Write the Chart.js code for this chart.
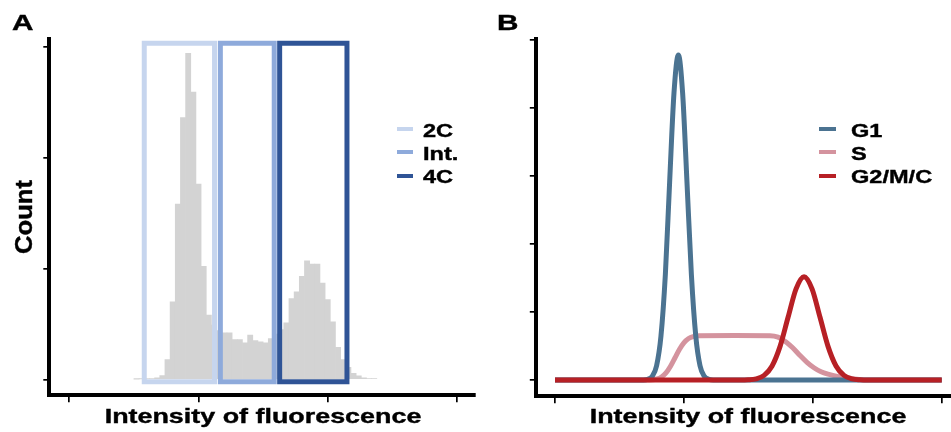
<!DOCTYPE html>
<html>
<head>
  <meta charset="utf-8">
  <title>DNA content: gates and cell cycle phases</title>
  <script src="https://cdn.jsdelivr.net/npm/chart.js@4.4.0/dist/chart.umd.min.js"></script>
  <style>
    body { margin: 0; background: #fff; font-family: "Liberation Sans", Arial, sans-serif; font-weight: bold; color: #000; }
    #fig { position: relative; width: 951px; height: 432px; overflow: hidden; }
    canvas { position: absolute; top: 0; }
    .txt { position: absolute; line-height: 1; white-space: nowrap; -webkit-text-stroke: 0.4px #000; }
    .key { position: absolute; height: 4px; }
  </style>
</head>
<body>
<div id="fig">
  <canvas id="histA" width="480" height="432" style="left:0px;"></canvas>
  <canvas id="curvesB" width="471" height="432" style="left:480px;"></canvas>

  <div class="txt" style="left:11.7px; top:12px; font-size:22px; transform:scaleX(1.35); transform-origin:left;">A</div>
  <div class="txt" style="left:496.7px; top:12px; font-size:22px; transform:scaleX(1.35); transform-origin:left;">B</div>
  <div class="txt" style="left:-35.8px; top:205px; width:120px; height:24px; font-size:24px; text-align:center; transform:rotate(-90deg) scaleX(1.07);">Count</div>
  <div class="txt" style="left:63.3px; top:404.5px; width:400px; font-size:21px; text-align:center; transform:scaleX(1.28);">Intensity of fluorescence</div>
  <div class="txt" style="left:548.3px; top:404.5px; width:400px; font-size:21px; text-align:center; transform:scaleX(1.28);">Intensity of fluorescence</div>
  <div id="legendA"></div>
  <div id="legendB"></div>
</div>

<script>
  // ---- panel A: histogram (bin centres, counts) and the three gates ----
  const binCenters = [52, 56, 60, 64, 68, 72, 76, 80, 84, 88, 92, 96, 100, 104, 108, 112,
    116, 120, 124, 128, 132, 136, 140, 144, 148, 152, 156, 160, 164, 168, 172, 176,
    180, 184, 188, 192, 196, 200, 204, 208, 212, 216, 220, 224, 228, 232, 236];
  const binCounts = [0.3, 0.5, 0.7, 0.9, 1.5, 3.6, 18, 70, 158, 236, 294, 259, 176, 102, 58, 49,
    44, 42, 42, 36, 36, 33, 40, 35, 34, 33, 37, 41, 45, 51, 73, 79,
    93, 107, 104, 104, 87, 72, 52, 29, 18, 11, 5.6, 3.4, 1.6, 0.7, 0.7];

  const gateNames = ['2C', 'Int.', '4C'];
  const gateLo = [58, 116.9, 162.8];
  const gateHi = [112.4, 158.6, 214.9];
  const gateBottom = -2;
  const gateTop = 303;
  const gateColors = ['#c6d5ee', '#8eaadb', '#2f5496'];

  const ticksAx = [0, 100, 200, 300];
  const ticksAy = [0, 100, 200, 300];

  // ---- panel B: idealised phase distributions ----
  const g1X = [0, 0.687, 0.720, 0.754, 0.788, 0.822, 0.856, 0.889, 0.923, 0.957, 0.990, 1.024, 1.058, 1.092, 1.125, 1.159, 1.193, 1.227, 3];
  const g1Y = [0, 0, 0.01, 0.053, 0.21, 0.647, 1.55, 2.90, 4.22, 4.78, 4.22, 2.90, 1.55, 0.647, 0.21, 0.053, 0.01, 0, 0];

  const sX = [0, 0.706, 0.791, 0.826, 0.861, 0.896, 0.931, 0.966, 1.001, 1.036, 1.071, 1.117, 1.396,
    1.668, 1.730, 1.792, 1.846, 1.901, 1.955, 2.009, 2.064, 2.118, 2.211, 2.312, 2.405, 3];
  const sY = [0, 0, 0.015, 0.044, 0.104, 0.202, 0.327, 0.452, 0.550, 0.610, 0.639, 0.652, 0.655,
    0.652, 0.63, 0.56, 0.47, 0.36, 0.26, 0.18, 0.12, 0.085, 0.045, 0.02, 0, 0];

  const g2X = [0, 1.436, 1.498, 1.560, 1.622, 1.684, 1.746, 1.808, 1.870, 1.932, 1.994, 2.056, 2.118, 2.180, 2.242, 2.304, 2.366, 2.428, 3];
  const g2Y = [0, 0, 0.003, 0.017, 0.067, 0.206, 0.494, 0.922, 1.341, 1.52, 1.341, 0.922, 0.494, 0.206, 0.067, 0.017, 0.003, 0, 0];

  const phaseNames = ['G1', 'S', 'G2/M/C'];
  const phaseColors = ['#4b7391', '#d4939e', '#b72025'];

  const ticksBx = [0, 1, 2, 3];
  const ticksBy = [0, 1, 2, 3, 4, 5];

  function axis(min, max, vals, tickLen) {
    return {
      type: 'linear', min: min, max: max, offset: false,
      afterBuildTicks: s => { s.ticks = vals.map(v => ({value: v})); },
      ticks: {display: false},
      grid: {drawOnChartArea: false, drawTicks: true, tickLength: tickLen, color: '#000', lineWidth: 1.7, offset: false},
      border: {display: true, color: '#000', width: 4}
    };
  }

  function pts(xs, ys) {
    return xs.map((x, i) => ({x: x, y: ys[i]}));
  }

  let gateSets = gateNames.map((name, i) => ({
    type: 'line',
    label: name,
    data: pts([gateLo[i], gateHi[i], gateHi[i], gateLo[i], gateLo[i], gateHi[i]],
              [gateBottom, gateBottom, gateTop, gateTop, gateBottom, gateBottom]),
    borderColor: gateColors[i],
    borderWidth: 5,
    borderJoinStyle: 'miter',
    pointRadius: 0,
    fill: false,
    tension: 0,
    order: 3 - i
  }));

  new Chart(document.getElementById('histA'), {
    type: 'bar',
    data: {
      datasets: [{
        type: 'bar',
        label: 'Count',
        data: pts(binCenters, binCounts),
        backgroundColor: '#d3d3d3',
        borderWidth: 0,
        barPercentage: 1,
        categoryPercentage: 1,
        order: 10
      }].concat(gateSets)
    },
    options: {
      responsive: false,
      animation: false,
      events: [],
      layout: {padding: {left: 43.3, top: 39, right: 5, bottom: 29.7}},
      plugins: {legend: {display: false}, tooltip: {enabled: false}},
      scales: {
        x: axis(-15.5, 314, ticksAx, 7),
        y: axis(-14.2, 306.8, ticksAy, 6)
      }
    }
  });

  let curveData = [[g1X, g1Y], [sX, sY], [g2X, g2Y]];
  let drawOrder = [1, 2, 0];  // red on top, pink underneath

  new Chart(document.getElementById('curvesB'), {
    type: 'line',
    data: {
      datasets: phaseNames.map((name, i) => ({
        label: name,
        data: pts(curveData[i][0], curveData[i][1]),
        borderColor: phaseColors[i],
        borderWidth: 5,
        borderCapStyle: 'butt',
        cubicInterpolationMode: 'monotone',
        pointRadius: 0,
        fill: false,
        order: drawOrder[i]
      }))
    },
    options: {
      responsive: false,
      animation: false,
      events: [],
      layout: {padding: {left: 49.8, top: 38.5, right: 0, bottom: 28.7}},
      plugins: {legend: {display: false}, tooltip: {enabled: false}},
      scales: {
        x: axis(-0.149, 3.072, ticksBx, 7),
        y: axis(-0.24, 5.022, ticksBy, 6)
      }
    }
  });

  // legends sit inside the panels, so they are laid out by hand
  function buildLegend(el, names, colors, keyLeft, keyWidth, textLeft) {
    let baselines = [137, 160, 183.5];
    names.forEach((name, i) => {
      let key = document.createElement('div');
      key.className = 'key';
      key.style.left = keyLeft + 'px';
      key.style.width = keyWidth + 'px';
      key.style.top = (baselines[i] - 10) + 'px';
      key.style.background = colors[i];
      el.append(key);
      let t = document.createElement('div');
      t.className = 'txt';
      t.textContent = name;
      t.style.left = textLeft + 'px';
      t.style.top = (baselines[i] - 16.1) + 'px';
      t.style.fontSize = '19px';
      t.style.transform = 'scaleX(1.24)';
      t.style.transformOrigin = 'left';
      el.append(t);
    });
  }
  buildLegend(document.getElementById('legendA'), gateNames, gateColors, 397, 16, 422.7);
  buildLegend(document.getElementById('legendB'), phaseNames, phaseColors, 819, 17, 851);
</script>
</body>
</html>
